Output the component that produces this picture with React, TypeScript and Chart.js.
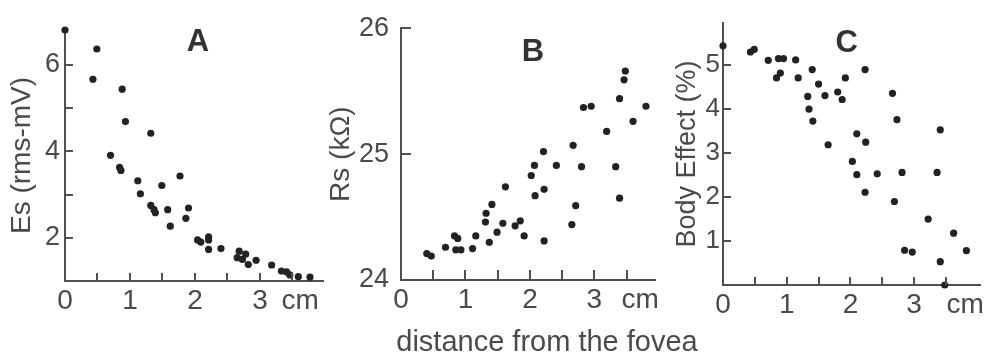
import React, { useEffect, useRef } from 'react';
import { Chart, registerables } from 'chart.js';

Chart.register(...registerables);

const FONT = '"Liberation Sans", Arial, Helvetica, sans-serif';
const TEXT = '#4a4a4a';
const AXIS = '#505050';
const DOT = '#222222';

// ---------- Panel A: Es (rms-mV) vs distance ----------
const esDistance = [0, 0.49, 0.43, 0.88, 0.93, 1.32, 0.70, 0.84, 0.86, 1.12, 1.16, 1.49, 1.77, 1.32, 1.37, 1.39, 1.58, 1.90, 1.86, 1.62, 2.04, 2.09, 2.21, 2.21, 2.21, 2.40, 2.68, 2.78, 2.65, 2.73, 2.82, 2.94, 3.18, 3.33, 3.41, 3.46, 3.59, 3.77];
const esValues = [6.81, 6.37, 5.67, 5.44, 4.69, 4.42, 3.91, 3.63, 3.56, 3.32, 3.02, 3.21, 3.43, 2.75, 2.65, 2.58, 2.65, 2.69, 2.45, 2.27, 1.95, 1.90, 2.02, 1.95, 1.73, 1.75, 1.69, 1.62, 1.54, 1.50, 1.38, 1.48, 1.37, 1.23, 1.21, 1.14, 1.10, 1.09];

// ---------- Panel B: Rs (kΩ) vs distance ----------
const rsDistance = [0.40, 0.47, 0.69, 0.83, 0.88, 0.85, 0.93, 1.11, 1.16, 1.31, 1.32, 1.41, 1.37, 1.49, 1.58, 1.62, 1.77, 1.85, 1.91, 2.02, 2.07, 2.08, 2.21, 2.22, 2.22, 2.41, 2.67, 2.71, 2.65, 2.80, 2.83, 2.95, 3.19, 3.33, 3.39, 3.39, 3.46, 3.48, 3.60, 3.80];
const rsValues = [24.21, 24.19, 24.26, 24.35, 24.33, 24.24, 24.24, 24.25, 24.35, 24.46, 24.53, 24.60, 24.30, 24.38, 24.45, 24.74, 24.43, 24.47, 24.35, 24.83, 24.91, 24.67, 25.02, 24.72, 24.31, 24.91, 25.07, 24.59, 24.44, 24.90, 25.37, 25.38, 25.18, 24.90, 24.65, 25.44, 25.59, 25.66, 25.26, 25.38];

// ---------- Panel C: Body Effect (%) vs distance ----------
const beDistance = [0, 0.43, 0.49, 0.71, 0.87, 0.95, 0.84, 0.90, 1.14, 1.18, 1.40, 1.33, 1.35, 1.41, 1.50, 1.60, 1.65, 1.80, 1.87, 1.92, 2.23, 2.03, 2.10, 2.10, 2.24, 2.23, 2.42, 2.66, 2.73, 2.81, 2.69, 2.85, 2.97, 3.22, 3.36, 3.41, 3.41, 3.48, 3.62, 3.82];
const beValues = [5.44, 5.30, 5.36, 5.11, 5.15, 5.15, 4.71, 4.82, 5.12, 4.71, 4.90, 4.29, 4.00, 3.73, 4.57, 4.31, 3.19, 4.39, 4.22, 4.71, 4.90, 2.81, 3.44, 2.51, 3.25, 2.11, 2.53, 4.36, 3.76, 2.56, 1.90, 0.79, 0.75, 1.50, 2.56, 3.53, 0.53, 0.0, 1.18, 0.78];

// ---------- Tick labels / marks ----------
const xTickLabels = [0, 1, 2, 3];
const xTickMarks = [0.5, 1, 1.5, 2, 2.5, 3, 3.5];
const aYTickLabels = [2, 4, 6];
const aYTickMarks = [2, 3, 4, 5, 6];
const bYTickLabels = [24, 25, 26];
const bYTickMarks = [25, 26];
const cYTickLabels = [1, 2, 3, 4, 5];
const cYTickMarks = [1, 2, 3, 4, 5];
const unitLabel = 'cm';

function makeDecor(d: any) {
  return {
    id: 'decor' + d.letter,
    afterDraw(chart: any) {
      const { ctx, chartArea, scales } = chart;
      const xs = scales.x;
      const ys = scales.y;
      ctx.save();
      ctx.strokeStyle = AXIS;
      ctx.lineWidth = 2;
      ctx.beginPath();
      for (const v of d.xMarks) {
        const px = Math.round(xs.getPixelForValue(v));
        ctx.moveTo(px, chartArea.bottom);
        ctx.lineTo(px, chartArea.bottom - d.tickLen);
      }
      for (const v of d.yMarks) {
        const py = Math.round(ys.getPixelForValue(v));
        ctx.moveTo(chartArea.left, py);
        ctx.lineTo(chartArea.left + d.tickLen, py);
      }
      ctx.stroke();
      ctx.fillStyle = '#333333';
      ctx.font = `bold ${d.letterSize}px ${FONT}`;
      ctx.textAlign = 'center';
      ctx.textBaseline = 'middle';
      ctx.fillText(d.letter, (chartArea.left + chartArea.right) / 2 + d.letterDx, chartArea.top + d.letterDy);
      if (d.footer) {
        ctx.fillStyle = TEXT;
        ctx.font = `29px ${FONT}`;
        ctx.textBaseline = 'alphabetic';
        ctx.fillText(d.footer, (chartArea.left + chartArea.right) / 2 + d.footerDx, chartArea.bottom + d.footerDy);
      }
      ctx.restore();
    },
  };
}

function makeConfig(p: any) {
  return {
    type: 'scatter',
    data: {
      datasets: [
        {
          data: p.xs.map((x: number, i: number) => ({ x, y: p.ys[i] })),
          pointRadius: 3.6,
          pointBackgroundColor: DOT,
          pointBorderWidth: 0,
          pointHoverRadius: 3.6,
          clip: false,
        },
      ],
    },
    options: {
      animation: false,
      responsive: false,
      maintainAspectRatio: false,
      events: [],
      layout: { padding: p.padding },
      plugins: {
        legend: { display: false },
        tooltip: { enabled: false },
      },
      scales: {
        x: {
          type: 'linear',
          min: 0,
          max: p.xMax,
          afterFit: (s: any) => {
            s.height = p.xHeight;
          },
          afterBuildTicks: (s: any) => {
            s.ticks = [...xTickLabels, p.cmAt].map((v) => ({ value: v }));
          },
          ticks: {
            autoSkip: false,
            maxRotation: 0,
            minRotation: 0,
            padding: p.xPad,
            color: TEXT,
            font: { family: FONT, size: 28 },
            callback: (v: number) => (v === p.cmAt ? unitLabel : String(v)),
          },
          grid: { display: false, drawTicks: false },
          border: { display: true, color: AXIS, width: 2 },
        },
        y: {
          type: 'linear',
          min: p.yMin,
          max: p.yMax,
          afterFit: (s: any) => {
            s.width = p.yWidth;
          },
          afterBuildTicks: (s: any) => {
            s.ticks = p.yLabels.map((v: number) => ({ value: v }));
          },
          ticks: {
            autoSkip: false,
            padding: p.yPad,
            color: TEXT,
            font: { family: FONT, size: p.yFont },
            callback: (v: number) => String(v),
          },
          grid: { display: false, drawTicks: false },
          border: { display: true, color: AXIS, width: 2 },
          title: {
            display: true,
            text: p.yTitle,
            color: TEXT,
            font: { family: FONT, size: p.yTitleSize, lineHeight: 1.2 },
            padding: { top: p.yTitlePad, bottom: 0 },
          },
        },
      },
    },
    plugins: [makeDecor(p.decor)],
  };
}

function Panel(props: { left: number; width: number; height: number; cfg: any }) {
  const ref = useRef<HTMLCanvasElement | null>(null);
  useEffect(() => {
    if (!ref.current) return;
    const chart = new Chart(ref.current, makeConfig(props.cfg) as any);
    return () => chart.destroy();
  }, []);
  return (
    <canvas
      ref={ref}
      width={props.width}
      height={props.height}
      style={{ position: 'absolute', left: props.left, top: 0, width: props.width, height: props.height }}
    />
  );
}

const panelA = {
  xs: esDistance,
  ys: esValues,
  xMax: 3.97,
  yMin: 1,
  yMax: 6.81,
  yLabels: aYTickLabels,
  padding: { top: 30, right: 7, left: 0, bottom: 0 },
  xHeight: 39,
  yWidth: 65,
  xPad: 3,
  yPad: 5,
  yFont: 27,
  cmAt: 3.62,
  yTitle: 'Es (rms-mV)',
  yTitleSize: 28,
  yTitlePad: 5,
  decor: { xMarks: xTickMarks, yMarks: aYTickMarks, tickLen: 8, letter: 'A', letterSize: 31, letterDx: 4, letterDy: 12 },
};

const panelB = {
  xs: rsDistance,
  ys: rsValues,
  xMax: 3.94,
  yMin: 24,
  yMax: 26,
  yLabels: bYTickLabels,
  padding: { top: 20, right: 65, left: 0, bottom: 38 },
  xHeight: 40,
  yWidth: 83,
  xPad: 3,
  yPad: 12,
  yFont: 27,
  cmAt: 3.71,
  yTitle: 'Rs (kΩ)',
  yTitleSize: 28,
  yTitlePad: 6,
  decor: {
    xMarks: xTickMarks,
    yMarks: bYTickMarks,
    tickLen: 10,
    letter: 'B',
    letterSize: 31,
    letterDx: 5,
    letterDy: 24,
    footer: 'distance from the fovea',
    footerDx: 19,
    footerDy: 71,
  },
};

const panelC = {
  xs: beDistance,
  ys: beValues,
  xMax: 4.04,
  yMin: 0,
  yMax: 5.96,
  yLabels: cYTickLabels,
  padding: { top: 23, right: 0, left: 0, bottom: 0 },
  xHeight: 35,
  yWidth: 73,
  xPad: 3,
  yPad: 3,
  yFont: 26,
  cmAt: 3.8,
  yTitle: 'Body Effect (%)',
  yTitleSize: 27,
  yTitlePad: 21,
  decor: { xMarks: xTickMarks, yMarks: cYTickMarks, tickLen: 8, letter: 'C', letterSize: 31, letterDx: -5, letterDy: 20 },
};

export default function App() {
  return (
    <div style={{ position: 'absolute', left: 0, top: 0, width: 987, height: 358, background: '#ffffff', overflow: 'hidden' }}>
      <Panel left={0} width={330} height={320} cfg={panelA} />
      <Panel left={318} width={402} height={358} cfg={panelB} />
      <Panel left={650} width={337} height={320} cfg={panelC} />
    </div>
  );
}
